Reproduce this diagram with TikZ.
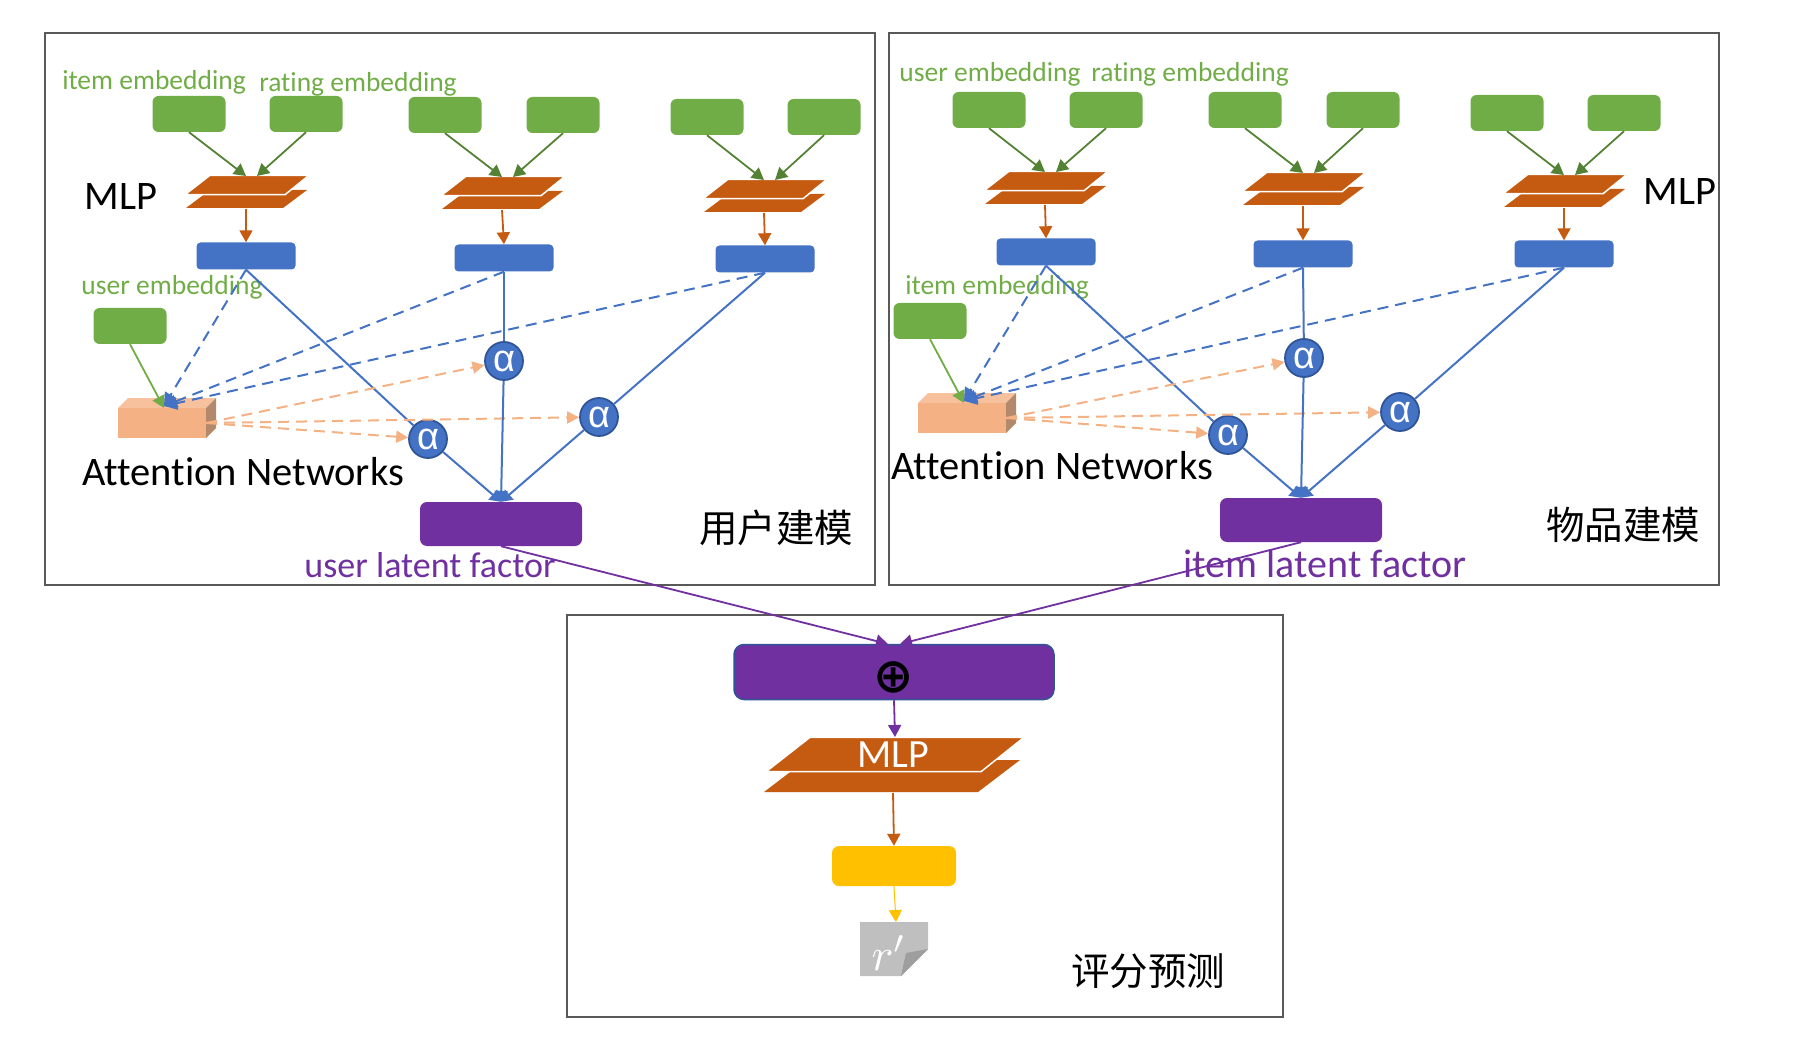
\documentclass[tikz,border=0pt]{standalone}
\usepackage{fontspec}
\setmainfont[Ligatures=NoCommon]{Carlito}
\newfontfamily\cjk{Noto Sans CJK SC}
\newfontfamily\alphafont{Liberation Sans}
\newfontfamily\symfont{DejaVu Sans}
\usetikzlibrary{arrows.meta,calc}
\definecolor{cgreen}{HTML}{70AD47}
\definecolor{cdgreen}{HTML}{548235}
\definecolor{corange}{HTML}{C55A11}
\definecolor{cblue}{HTML}{4472C4}
\definecolor{cdblue}{HTML}{2F5597}
\definecolor{cpeach}{HTML}{F4B183}
\definecolor{cpurple}{HTML}{7030A0}
\definecolor{cyellow}{HTML}{FFC000}
\definecolor{cframe}{HTML}{595959}
\tikzset{
  panel/.style={draw=cframe,line width=1.6pt,fill=none},
  gbox/.style={fill=cgreen,rounded corners=6pt,minimum width=73pt,minimum height=36pt,inner sep=0pt},
  bbox/.style={fill=cblue,rounded corners=4pt,minimum width=99pt,minimum height=27pt,inner sep=0pt},
  pbox/.style={fill=cpurple,rounded corners=7pt,minimum width=162pt,minimum height=44pt,inner sep=0pt},
  alphanode/.style={circle,fill=cblue,draw=cdblue,line width=1.8pt,minimum size=38pt,inner sep=0pt,text=white,font=\alphafont\fontsize{38}{38}\selectfont},
  tg/.style={text=cgreen,inner sep=0pt,font=\fontsize{27.5}{27.5}\selectfont},
  tk/.style={text=black,inner sep=0pt,font=\fontsize{40.5}{40.5}\selectfont},
  tp/.style={text=cpurple,inner sep=0pt,font=\fontsize{36}{36}\selectfont},
  tc/.style={text=black,inner sep=0pt,font=\cjk\fontsize{38.5}{38.5}\selectfont},
  ga/.style={draw=cdgreen,line width=1.8pt,-{Triangle[length=12pt,width=13pt]}},
  ua/.style={draw=cgreen,line width=1.8pt,-{Triangle[length=12pt,width=13pt]}},
  oa/.style={draw=corange,line width=1.8pt,-{Triangle[length=12pt,width=13pt]}},
  ba/.style={draw=cblue,line width=2pt},
  bh/.style={draw=cblue,line width=2pt,-{Triangle[length=11pt,width=13pt]}},
  bd/.style={draw=cblue,line width=2pt,dash pattern=on 11pt off 7pt,-{Triangle[length=13pt,width=13pt]}},
  pd/.style={draw=cpeach,line width=2pt,dash pattern=on 11pt off 7pt,-{Triangle[length=12pt,width=12pt]}},
  pa/.style={draw=cpurple,line width=1.8pt,-{Triangle[length=12pt,width=13pt]}},
  ya/.style={draw=cyellow,line width=1pt,-{Triangle[length=12pt,width=13pt]}},
}
% two stacked plates: name, centre x, top y
\newcommand\mlpstack[3]{%
  \begin{scope}[shift={(#2,#3)}]
    \fill[corange] (-61,32) -- (36,32) -- (60,14) -- (-37,14) -- cycle;
    \draw[fill=corange,draw=white,line width=1.5pt] (-37,-0.7) -- (62,-0.7) -- (38,18.7) -- (-62,18.7) -- cycle;
    \coordinate (#1-a) at (-1,0);
    \coordinate (#1-c) at (10,0);
    \coordinate (#1-s) at (-1,33);
  \end{scope}}
% attention cuboid: name, front centre
\newcommand\attcube[3]{%
  \begin{scope}[shift={(#2,#3)}]
    \fill[cpeach!80!white] (-44,-15) -- (-34,-25) -- (54,-25) -- (44,-15) -- cycle;
    \fill[cpeach!70!black!90!white] (44,-15) -- (54,-25) -- (54,5) -- (44,15) -- cycle;
    \node[fill=cpeach,minimum width=88pt,minimum height=30pt,inner sep=0pt] (#1) at (0,0) {};
    \coordinate (#1-in) at (2,-17);
    \coordinate (#1-ug) at (2,-15);
  \end{scope}}
\begin{document}
\begin{tikzpicture}[x=1pt,y=-1pt]
\useasboundingbox (0,0) rectangle (1806,1040);
% panels
\node[panel,minimum width=830pt,minimum height=552pt,inner sep=0pt] (leftpanel) at (460,309) {};
\node[panel,minimum width=830pt,minimum height=552pt,inner sep=0pt] (rightpanel) at (1304,309) {};
\node[panel,minimum width=716pt,minimum height=402pt,inner sep=0pt] (bottompanel) at (925,816) {};

% ---------- left ----------
\node[gbox] (g1) at (189,114) {};
\node[gbox] (g2) at (306,114) {};
\node[gbox] (g3) at (445,115) {};
\node[gbox] (g4) at (563,115) {};
\node[gbox] (g5) at (707,117) {};
\node[gbox] (g6) at (824,117) {};
\mlpstack{m1}{247}{176}
\mlpstack{m2}{503}{177}
\mlpstack{m3}{765}{180}
\node[bbox] (b1) at (246,256) {};
\node[bbox] (b2) at (504,258) {};
\node[bbox] (b3) at (765,259) {};
\node[gbox] (ue) at (130,326) {};
\attcube{att}{162}{423}
\node[alphanode] (a1) at (428,439) {α};
\node[alphanode] (a2) at (504,361) {α};
\node[alphanode] (a3) at (599,417) {α};
\node[pbox] (p1) at (501,524) {};

\node[tg] (t1) at (154,82) {item embedding};
\node[tg] (t2) at (358,84) {rating embedding};
\node[tg] (t3) at (172,287) {user embedding};
\node[tk] (t4) at (121,197) {MLP};
\node[tk] (t5) at (243,472) {Attention Networks};
\node[tp] (t6) at (430,565) {user latent factor};
\node[tc] (t7) at (776,528) {用户建模};

\draw[ga] (g1.south) -- (m1-a);
\draw[ga] (g2.south) -- (m1-c);
\draw[ga] (g3.south) -- (m2-a);
\draw[ga] (g4.south) -- (m2-c);
\draw[ga] (g5.south) -- (m3-a);
\draw[ga] (g6.south) -- (m3-c);
\draw[oa] (m1-s) -- (b1.north);
\draw[oa] (m2-s) -- (b2.north);
\draw[oa] (m3-s) -- (b3.north);
\draw[ua] (ue.south) -- (att-ug);
\draw[bd] (b1.south) -- (att-in);
\draw[bd] (b2.south) -- (att-in);
\draw[bd] (b3.south) -- (att-in);
\draw[ba] (b1.south) -- (a1);
\draw[ba] (b2.south) -- (a2);
\draw[ba] (b3.south) -- (a3);
\draw[pd] (att.east) -- (a1);
\draw[pd] (att.east) -- (a2);
\draw[pd] (att.east) -- (a3);
\draw[bh] (a1) -- (p1.north);
\draw[bh] (a2) -- (p1.north);
\draw[bh] (a3) -- (p1.north);

% ---------- right ----------
\node[gbox] (h1) at (989,110) {};
\node[gbox] (h2) at (1106,110) {};
\node[gbox] (h3) at (1245,110) {};
\node[gbox] (h4) at (1363,110) {};
\node[gbox] (h5) at (1507,113) {};
\node[gbox] (h6) at (1624,113) {};
\mlpstack{n1}{1046}{172}
\mlpstack{n2}{1304}{173}
\mlpstack{n3}{1565}{175}
\node[bbox] (c1) at (1046,252) {};
\node[bbox] (c2) at (1303,254) {};
\node[bbox] (c3) at (1564,254) {};
\node[gbox] (ie) at (930,321) {};
\attcube{btt}{962}{418}
\node[alphanode] (e1) at (1228,435) {α};
\node[alphanode] (e2) at (1304,358) {α};
\node[alphanode] (e3) at (1400,412) {α};
\node[pbox] (p2) at (1301,520) {};

\node[tg] (u1) at (990,74) {user embedding};
\node[tg] (u2) at (1190,74) {rating embedding};
\node[tg] (u3) at (997,287) {item embedding};
\node[tk] (u4) at (1680,192) {MLP};
\node[tk] (u5) at (1052,466) {Attention Networks};
\node[tp,font=\fontsize{40}{40}\selectfont] (u6) at (1325,564) {item latent factor};
\node[tc] (u7) at (1623,525) {物品建模};

\draw[ga] (h1.south) -- (n1-a);
\draw[ga] (h2.south) -- (n1-c);
\draw[ga] (h3.south) -- (n2-a);
\draw[ga] (h4.south) -- (n2-c);
\draw[ga] (h5.south) -- (n3-a);
\draw[ga] (h6.south) -- (n3-c);
\draw[oa] (n1-s) -- (c1.north);
\draw[oa] (n2-s) -- (c2.north);
\draw[oa] (n3-s) -- (c3.north);
\draw[ua] (ie.south) -- (btt-ug);
\draw[bd] (c1.south) -- (btt-in);
\draw[bd] (c2.south) -- (btt-in);
\draw[bd] (c3.south) -- (btt-in);
\draw[ba] (c1.south) -- (e1);
\draw[ba] (c2.south) -- (e2);
\draw[ba] (c3.south) -- (e3);
\draw[pd] (btt.east) -- (e1);
\draw[pd] (btt.east) -- (e2);
\draw[pd] (btt.east) -- (e3);
\draw[bh] (e1) -- (p2.north);
\draw[bh] (e2) -- (p2.north);
\draw[bh] (e3) -- (p2.north);

% ---------- bottom ----------
\node[fill=cpurple,draw=cdblue,line width=1.5pt,rounded corners=10pt,minimum width=320pt,minimum height=55pt,inner sep=0pt] (merge) at (894,672) {};
\node[inner sep=0pt,text=black,font=\symfont\bfseries\fontsize{48}{48}\selectfont] (oplus) at (894,677) {⊕};
\coordinate (mergeL) at (888,644);
\coordinate (mergeR) at (900,644);
\fill[corange] (764,792) -- (978,792) -- (1020,760) -- (806,760) -- cycle;
\draw[fill=corange,draw=white,line width=1.5pt] (810,737.3) -- (1024,737.3) -- (981,771.7) -- (766,771.7) -- cycle;
\coordinate (mlpN) at (895,737);
\coordinate (mlpS) at (893,793);
\node[inner sep=0pt,text=white,font=\fontsize{40}{40}\selectfont] (t8) at (893,755) {MLP};
\node[fill=cyellow,rounded corners=7pt,minimum width=124pt,minimum height=40pt,inner sep=0pt] (yb) at (894,866) {};
\fill[black!25] (860,922) -- (928,922) -- (928,949) -- (901,976) -- (860,976) -- cycle;
\fill[black!38] (928,949) -- (906,953) -- (901,976) -- cycle;
\coordinate (noteN) at (896,922);
\node[inner sep=0pt,text=white] (rp) at (889,953) {\scalebox{4.6}{$r'$}};
\node[tc] (t9) at (1148,971) {评分预测};

\draw[pa] (p1.south) -- (mergeL);
\draw[pa] (p2.south) -- (mergeR);
\draw[pa] (merge.south) -- (mlpN);
\draw[oa] (mlpS) -- (yb.north);
\draw[ya] (yb.south) -- (noteN);
\end{tikzpicture}
\end{document}
